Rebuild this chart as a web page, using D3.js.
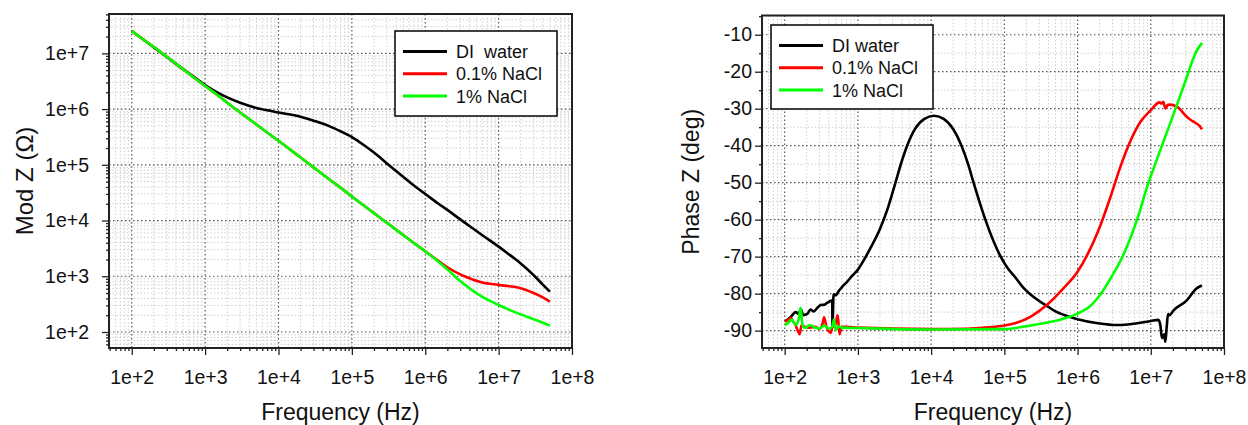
<!DOCTYPE html>
<html>
<head>
<meta charset="utf-8">
<script src="https://cdn.jsdelivr.net/npm/d3@7/dist/d3.min.js"></script>
<style>
  body { margin: 0; background: #fff; }
  svg { display: block; font-family: Arial, "Liberation Sans", sans-serif; }
</style>
</head>
<body>
<svg width="1248" height="425"></svg>
<script>
// ---- data ----
const xTickValues = [1e2, 1e3, 1e4, 1e5, 1e6, 1e7, 1e8];
const xTickLabels = ["1e+2", "1e+3", "1e+4", "1e+5", "1e+6", "1e+7", "1e+8"];
const modTickValues = [1e2, 1e3, 1e4, 1e5, 1e6, 1e7];
const modTickLabels = ["1e+2", "1e+3", "1e+4", "1e+5", "1e+6", "1e+7"];
const phaseTickValues = [-90, -80, -70, -60, -50, -40, -30, -20, -10];

const seriesColors = ["#000000", "#ff0000", "#00ff00"];
const modNames = ["DI  water", "0.1% NaCl", "1% NaCl"];
const phaseNames = ["DI water", "0.1% NaCl", "1% NaCl"];

// Mod Z (ohm)
const freqMod = [100, 150, 200, 300, 500, 700, 1e3, 1.5e3, 2e3, 3e3, 5e3, 7e3, 1e4, 2e4, 3e4, 5e4, 7e4,
  1e5, 1.5e5, 2e5, 3e5, 5e5, 7e5, 1e6, 1.5e6, 2e6, 3e6, 4e6, 6e6, 1e7, 1.4e7, 1.6e7, 2e7, 3e7, 4e7, 5e7];
const modDI = [2.5e7, 1.7e7, 1.28e7, 8.6e6, 5.2e6, 3.8e6, 2.7e6, 1.95e6, 1.62e6, 1.3e6, 1.05e6, 9.5e5, 8.7e5, 7.3e5, 6.2e5, 4.9e5, 4.0e5,
  3.15e5, 2.2e5, 1.66e5, 1.06e5, 6.1e4, 4.25e4, 3.0e4, 2.02e4, 1.55e4, 1.05e4, 8.0e3, 5.45e3, 3.4e3, 2.45e3, 2.15e3, 1.7e3, 1.05e3, 7.1e2, 5.3e2];
const modNaCl01 = [2.5e7, 1.7e7, 1.3e7, 8.7e6, 5.2e6, 3.7e6, 2.6e6, 1.75e6, 1.3e6, 8.7e5, 5.3e5, 3.8e5, 2.7e5, 1.35e5, 9.0e4, 5.4e4, 3.9e4,
  2.7e4, 1.8e4, 1.36e4, 9.1e3, 5.5e3, 3.95e3, 2.8e3, 1.9e3, 1.45e3, 1.08e3, 9.2e2, 7.7e2, 7.0e2, 6.6e2, 6.5e2, 6.1e2, 5.0e2, 4.2e2, 3.5e2];
const modNaCl1 = [2.5e7, 1.7e7, 1.3e7, 8.7e6, 5.2e6, 3.7e6, 2.6e6, 1.75e6, 1.3e6, 8.7e5, 5.3e5, 3.8e5, 2.7e5, 1.35e5, 9.0e4, 5.4e4, 3.9e4,
  2.7e4, 1.8e4, 1.36e4, 9.1e3, 5.5e3, 3.95e3, 2.8e3, 1.85e3, 1.33e3, 8.2e2, 6.1e2, 4.25e2, 3.05e2, 2.5e2, 2.32e2, 2.07e2, 1.7e2, 1.47e2, 1.3e2];

// Phase Z (deg)
const freqPhaseDI = [100, 110, 121, 141, 155, 165, 180, 203, 225, 250, 280, 310, 345, 380, 420, 445, 450, 465, 500, 550, 620, 710, 850,
  1e3, 1.2e3, 1.5e3, 2e3, 2.5e3, 3.2e3, 4e3, 4.7e3, 6e3, 8e3, 1.1e4, 1.5e4, 2e4, 2.6e4, 3.2e4, 3.8e4, 5.5e4, 8.9e4, 1.1e5, 1.4e5,
  1.8e5, 2.3e5, 3e5, 3.8e5, 5e5, 6.4e5, 1e6, 1.9e6, 3.5e6, 6.5e6, 1e7, 1.27e7, 1.35e7, 1.42e7, 1.52e7, 1.58e7, 1.65e7, 1.72e7,
  1.8e7, 2.05e7, 3.1e7, 4.2e7, 5e7];
const phaseDI = [-87.5, -87, -86.3, -85, -85.5, -84.2, -85.8, -85.5, -84.3, -84.8, -83.8, -83.1, -83, -82.5, -82, -81.8, -88.9, -80.2, -80.4, -79.2, -78, -76.8, -75,
  -73.5, -71, -67.5, -62.5, -57.5, -50.5, -44, -40, -35.5, -32.8, -31.9, -32.8, -35.5, -40, -45, -50, -60, -70, -73, -75.5,
  -78.3, -80.3, -82, -83.3, -84.8, -85.7, -86.9, -88, -88.5, -88, -87.4, -87.1, -88.5, -92, -91, -93, -89, -85.5,
  -85.8, -84.5, -81.8, -78.6, -77.8];

const freqPhaseNaCl01 = [100, 110, 121, 130, 141, 150, 160, 170, 190, 220, 260, 300, 330, 345, 370, 425, 450, 490, 530, 560, 600, 700,
  1e3, 1e4, 3e4, 6e4, 1e5, 1.5e5, 2.3e5, 3.8e5, 6.4e5, 1e6, 1.4e6, 1.9e6, 2.8e6, 3.8e6, 5.2e6, 7.2e6, 1e7, 1.32e7, 1.4e7, 1.48e7,
  1.55e7, 1.6e7, 1.7e7, 1.8e7, 2.3e7, 3.1e7, 3.6e7, 4.2e7, 4.6e7, 5e7];
const phaseNaCl01 = [-87.5, -87.2, -86.6, -87.5, -88.5, -89.9, -91, -88.5, -89, -89.2, -89, -89.5, -88, -86.4, -88.8, -90.6, -89, -88.5, -85.8, -91, -89, -89,
  -89.2, -89.6, -89.5, -89.1, -88.6, -87.8, -86.2, -83.1, -78.6, -74.1, -69, -63.2, -54, -46, -39, -33.6, -30.4, -28.3, -28.6, -28.1,
  -29.4, -29.9, -29, -28.9, -29.5, -32.2, -33.2, -34, -34.6, -35.6];

const freqPhaseNaCl1 = [100, 110, 125, 141, 155, 165, 175, 190, 220, 260, 300, 350, 400, 450, 470, 500, 550, 600,
  1e3, 1e4, 1e5, 2.3e5, 6.4e5, 1e6, 1.5e6, 2e6, 3e6, 4e6, 6.5e6, 9.3e6, 1.1e7, 1.48e7, 1.8e7, 2.8e7, 4.2e7, 5e7];
const phaseNaCl1 = [-88.5, -88, -87, -88.5, -87, -83.8, -88.5, -89.3, -88.5, -89.2, -89.4, -88.6, -89.5, -88.8, -87, -89.8, -88.8, -89.2,
  -89.3, -89.7, -89.6, -88.6, -86.8, -85.4, -83.3, -80.5, -75, -70.5, -60, -50, -46, -39, -34.5, -24, -14.5, -12.2];

const svg = d3.select('svg');

function drawPanel(opt) {
  const b = opt.box;
  const x = d3.scaleLog().domain([Math.pow(10, 1.69), 1e8]).range([b.left, b.right]);
  const y = opt.y;
  const g = svg.append('g');

  // minor positions on the log frequency axis
  let minorX = [];
  for (let e = 1; e < 8; e++) {
    for (let k = 2; k < 10; k++) {
      let v = k * Math.pow(10, e);
      if (v > x.domain()[0] && v < x.domain()[1]) minorX.push(v);
    }
  }

  // grid
  let grid = g.append('g');
  grid.selectAll('.mgx').data(minorX).enter().append('line')
    .attr('x1', d => x(d)).attr('x2', d => x(d))
    .attr('y1', b.top).attr('y2', b.bottom)
    .attr('stroke', '#cfcfcf').attr('stroke-width', 1).attr('stroke-dasharray', '1.5,2');
  grid.selectAll('.mgy').data(opt.minorY).enter().append('line')
    .attr('x1', b.left).attr('x2', b.right)
    .attr('y1', d => y(d)).attr('y2', d => y(d))
    .attr('stroke', '#cfcfcf').attr('stroke-width', 1).attr('stroke-dasharray', '1.5,2');
  grid.selectAll('.gx').data(xTickValues).enter().append('line')
    .attr('x1', d => x(d)).attr('x2', d => x(d))
    .attr('y1', b.top).attr('y2', b.bottom)
    .attr('stroke', '#555').attr('stroke-width', 1.2).attr('stroke-dasharray', '1.5,2.5');
  grid.selectAll('.gy').data(opt.yTicks).enter().append('line')
    .attr('x1', b.left).attr('x2', b.right)
    .attr('y1', d => y(d)).attr('y2', d => y(d))
    .attr('stroke', '#555').attr('stroke-width', 1.2).attr('stroke-dasharray', '1.5,2.5');

  // series
  let line = d3.line()
    .x(d => x(d[0]))
    .y(d => y(d[1]))
    .curve(d3.curveMonotoneX);
  opt.series.forEach((s, i) => {
    g.append('path')
      .attr('d', line(s.f.map((f, j) => [f, s.v[j]])))
      .attr('fill', 'none')
      .attr('stroke', seriesColors[i])
      .attr('stroke-width', 2.6)
      .attr('stroke-linejoin', 'round');
  });

  // axes
  g.append('g').attr('transform', `translate(0,${b.bottom})`)
    .call(d3.axisBottom(x).tickValues(xTickValues).tickFormat((d, i) => xTickLabels[i]).tickSize(7).tickPadding(15));
  g.append('g').attr('transform', `translate(0,${b.bottom})`)
    .call(d3.axisBottom(x).tickValues(minorX).tickFormat('').tickSize(3));
  g.append('g').attr('transform', `translate(${b.left},0)`)
    .call(d3.axisLeft(y).tickValues(opt.yTicks).tickFormat((d, i) => opt.yLabels[i]).tickSize(7).tickPadding(opt.yPad));
  g.append('g').attr('transform', `translate(${b.left},0)`)
    .call(d3.axisLeft(y).tickValues(opt.minorY).tickFormat('').tickSize(3));
  g.selectAll('.domain').remove();
  g.selectAll('.tick line').attr('stroke', '#222').attr('stroke-width', 1.3);
  g.selectAll('.tick text').attr('font-size', '19.5px').attr('fill', '#111')
    .attr('font-family', 'Arial, "Liberation Sans", sans-serif');

  // frame
  g.append('rect')
    .attr('x', b.left).attr('y', b.top)
    .attr('width', b.right - b.left).attr('height', b.bottom - b.top)
    .attr('fill', 'none').attr('stroke', '#222').attr('stroke-width', 2);

  // legend
  let L = opt.legend;
  g.append('rect')
    .attr('x', L.x).attr('y', L.y).attr('width', L.w).attr('height', L.h)
    .attr('fill', '#fff').attr('stroke', '#111').attr('stroke-width', 1.6);
  opt.names.forEach((n, i) => {
    let ry = L.y + 20.5 + i * 22.3;
    g.append('line')
      .attr('x1', L.x + 8).attr('x2', L.x + 52)
      .attr('y1', ry).attr('y2', ry)
      .attr('stroke', seriesColors[i]).attr('stroke-width', 3);
    g.append('text')
      .attr('x', L.x + 61).attr('y', ry + 6.5)
      .attr('font-size', '18px').attr('fill', '#111')
      .style('white-space', 'pre')
      .text(n);
  });

  // titles
  g.append('text')
    .attr('x', (b.left + b.right) / 2).attr('y', 420)
    .attr('text-anchor', 'middle').attr('font-size', '23px').attr('fill', '#111')
    .text('Frequency (Hz)');
  g.append('text')
    .attr('transform', `translate(${opt.yTitleX},${(b.top + b.bottom) / 2}) rotate(-90)`)
    .attr('text-anchor', 'middle').attr('font-size', opt.yTitleSize).attr('fill', '#111')
    .text(opt.yTitle);
}

// left: magnitude
let modMinor = [];
for (let e = 1; e < 8; e++) {
  for (let k = 2; k < 10; k++) {
    let v = k * Math.pow(10, e);
    if (v > Math.pow(10, 1.713) && v < Math.pow(10, 7.706)) modMinor.push(v);
  }
}
drawPanel({
  box: { left: 109, top: 14, right: 572, bottom: 348 },
  y: d3.scaleLog().domain([Math.pow(10, 1.713), Math.pow(10, 7.706)]).range([348, 14]),
  yTicks: modTickValues,
  yLabels: modTickLabels,
  minorY: modMinor,
  yPad: 13,
  series: [
    { f: freqMod, v: modDI },
    { f: freqMod, v: modNaCl01 },
    { f: freqMod, v: modNaCl1 }
  ],
  names: modNames,
  legend: { x: 395, y: 31, w: 162, h: 85 },
  yTitle: 'Mod Z (\u03A9)',
  yTitleSize: '24px',
  yTitleX: 33
});

// right: phase
let phaseMinor = [];
for (let v = -95; v <= -5; v += 5) {
  if (v % 10 !== 0 && v > -94.7 && v < -4.8) phaseMinor.push(v);
}
drawPanel({
  box: { left: 762, top: 15.5, right: 1224, bottom: 348 },
  y: d3.scaleLinear().domain([-94.7, -4.8]).range([348, 15.5]),
  yTicks: phaseTickValues,
  yLabels: phaseTickValues.map(String),
  minorY: phaseMinor,
  yPad: 3,
  series: [
    { f: freqPhaseDI, v: phaseDI },
    { f: freqPhaseNaCl01, v: phaseNaCl01 },
    { f: freqPhaseNaCl1, v: phaseNaCl1 }
  ],
  names: phaseNames,
  legend: { x: 771, y: 25, w: 162, h: 84 },
  yTitle: 'Phase Z (deg)',
  yTitleSize: '23px',
  yTitleX: 699
});
</script>
</body>
</html>
